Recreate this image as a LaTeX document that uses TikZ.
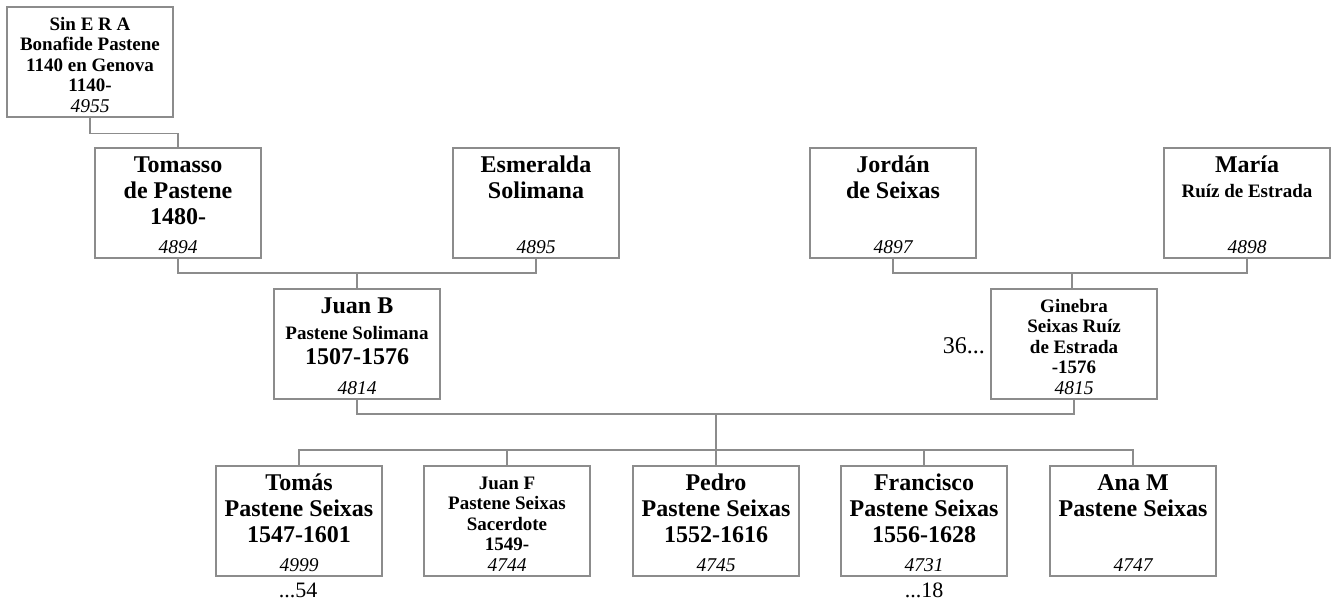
\documentclass[tikz,border=0pt]{standalone}
\usepackage{fontspec}
\setmainfont{Liberation Serif}
\definecolor{lc}{RGB}{140,140,140}
\newcommand\Bf[1]{{\fontsize{24}{26}\selectfont\rule{0pt}{24pt}#1\par}}
\newcommand\Bl[1]{{\fontsize{24}{26}\selectfont #1\par}}
\newcommand\Mf[1]{{\fontsize{19}{20.3}\selectfont\rule{0pt}{23.5pt}#1\par}}
\newcommand\Ml[1]{{\fontsize{19}{20.3}\selectfont #1\par}}
\newcommand\Nm[1]{\vfill{\fontsize{19.5}{20}\selectfont\mdseries\itshape #1\rule[-5pt]{0pt}{5pt}\par}}
\newcommand\persona[1]{\parbox[c][110pt][t]{166pt}{\centering\bfseries #1}}
\tikzset{
  person/.style={draw=lc, line width=1.2pt, inner sep=0pt, minimum width=166pt, minimum height=110pt},
  link/.style={draw=lc, line width=1.2pt},
  extra/.style={inner sep=0pt, font=\fontsize{22}{24}\selectfont}
}
\begin{document}
\begin{tikzpicture}[x=1pt,y=-1pt]
\useasboundingbox (0,0) rectangle (1332,600);
% generation 0
\node[person] (sin) at (90,62) {\persona{\Mf{Sin E R A}\Ml{Bonafide Pastene}\Ml{1140 en Genova}\Ml{1140-}\Nm{4955}}};
% generation 1
\node[person] (tomasso) at (178,203) {\persona{\Bf{Tomasso}\Bl{de Pastene}\Bl{1480-}\Nm{4894}}};
\node[person] (esmeralda) at (536,203) {\persona{\Bf{Esmeralda}\Bl{Solimana}\Nm{4895}}};
\node[person] (jordan) at (893,203) {\persona{\Bf{Jordán}\Bl{de Seixas}\Nm{4897}}};
\node[person] (maria) at (1247,203) {\persona{\Bf{María}\vspace{5pt}\Ml{Ruíz de Estrada}\Nm{4898}}};
% generation 2
\node[person] (juanb) at (357,344) {\persona{\Bf{Juan B}\vspace{6pt}\Ml{Pastene Solimana}\vspace{-1pt}\Bl{1507-1576}\Nm{4814}}};
\node[person] (ginebra) at (1074,344) {\persona{\Mf{Ginebra}\Ml{Seixas Ruíz}\Ml{de Estrada}\Ml{-1576}\Nm{4815}}};
% generation 3
\node[person] (tomas) at (299,521) {\persona{\Bf{Tomás}\Bl{Pastene Seixas}\Bl{1547-1601}\Nm{4999}}};
\node[person] (juanf) at (507,521) {\persona{\Mf{Juan F}\Ml{Pastene Seixas}\Ml{Sacerdote}\Ml{1549-}\Nm{4744}}};
\node[person] (pedro) at (716,521) {\persona{\Bf{Pedro}\Bl{Pastene Seixas}\Bl{1552-1616}\Nm{4745}}};
\node[person] (francisco) at (924,521) {\persona{\Bf{Francisco}\Bl{Pastene Seixas}\Bl{1556-1628}\Nm{4731}}};
\node[person] (anam) at (1133,521) {\persona{\Bf{Ana M}\Bl{Pastene Seixas}\Nm{4747}}};
% side labels
\node[extra, anchor=base east, font=\fontsize{24}{26}\selectfont] (l36) at (985,353) {36...};
\node[extra, anchor=base] (l54) at (298,597) {...54};
\node[extra, anchor=base] (l18) at (924,597) {...18};
% junction coordinates
\coordinate (m1) at (357,273);
\coordinate (m2) at (1072,273);
\coordinate (m3) at (716,414);
\coordinate (m4) at (716,450);
% connectors
\draw[link] (sin.south) -- ++(0,16) -| (tomasso.north);
\draw[link] (tomasso.south) |- (m1) -| (esmeralda.south);
\draw[link] (m1) -- (juanb.north);
\draw[link] (jordan.south) |- (m2) -| (maria.south);
\draw[link] (m2) -- (m2 |- ginebra.north);
\draw[link] (juanb.south) |- (m3) -| (ginebra.south);
\draw[link] (m3) -- (m4);
\draw[link] (tomas.north) |- (m4) -| (anam.north);
\draw[link] (juanf.north) -- (juanf.north |- m4);
\draw[link] (m4) -- (pedro.north);
\draw[link] (francisco.north) -- (francisco.north |- m4);
\end{tikzpicture}
\end{document}
